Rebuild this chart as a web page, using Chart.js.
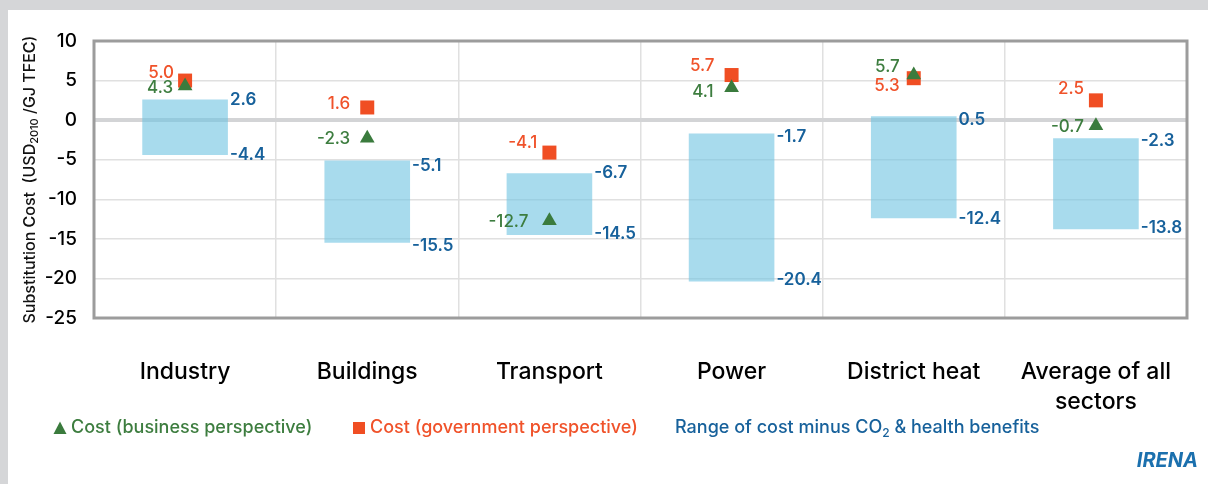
<!DOCTYPE html>
<html><head><meta charset="utf-8">
<script src="https://cdn.jsdelivr.net/npm/chart.js@4.4.0/dist/chart.umd.min.js"></script>
<style>html,body{margin:0;padding:0;background:#fff;overflow:hidden}canvas{display:block}</style>
</head><body><canvas id="c" width="1208" height="484"></canvas>
<script>
const categories = ['Industry', 'Buildings', 'Transport', 'Power', 'District heat', ['Average of all', 'sectors']];
const businessCost = [4.3, -2.3, -12.7, 4.1, 5.7, -0.7];
const governmentCost = [5.0, 1.6, -4.1, 5.7, 5.3, 2.5];
const rangeHigh = [2.6, -5.1, -6.7, -1.7, 0.5, -2.3];
const rangeLow = [-4.4, -15.5, -14.5, -20.4, -12.4, -13.8];
const yMin = -25, yMax = 10, yStep = 5;

// label nudges in pixels (style, not data)
const govLabelDx = [-11, -17, -12, -17, -14, -12];
const govLabelDy = [-8, -4, -10, -9, 8, -11];
const busLabelDx = [-12, -17, -21, -18, -14, -12];
const busLabelDy = [2, 1, 1.5, 4, -8, 1.5];
const highLabelDy = [0, 5, 0, 3, 4, 3];
const lowLabelDy = [0, 3, -1, -2, 1, -1];

const FONT = 'Inter, "Open Sans", sans-serif';
const ORANGE = '#f04e23', ORANGE_T = '#f0522a';
const GREEN = '#3a7b3d', GREEN_T = '#3d7d3f';
const BLUE_T = '#17619b';

function fmt(v) { return v.toFixed(1); }

function drawParts(ctx, parts, x, y, size, subSize, color, weight) {
  let cx = x;
  for (const p of parts) {
    const fs = p.sub ? subSize : size;
    ctx.font = (weight || 'normal') + ' ' + fs + 'px ' + FONT;
    ctx.fillStyle = color;
    ctx.fillText(p.t, cx, y + (p.sub ? size * 0.28 : 0));
    cx += ctx.measureText(p.t).width;
  }
  return cx;
}
function partsWidth(ctx, parts, size, subSize, weight) {
  let w = 0;
  for (const p of parts) {
    ctx.font = (weight || 'normal') + ' ' + (p.sub ? subSize : size) + 'px ' + FONT;
    w += ctx.measureText(p.t).width;
  }
  return w;
}

const customPlugin = {
  id: 'custom',
  beforeDraw(chart) {
    const ctx = chart.ctx;
    ctx.save();
    ctx.fillStyle = '#d5d6d8';
    ctx.fillRect(0, 0, chart.width, chart.height);
    ctx.fillStyle = '#ffffff';
    ctx.fillRect(8, 10, chart.width - 8, chart.height - 10);
    ctx.restore();
  },
  beforeDatasetsDraw(chart) {
    const { ctx, chartArea: a } = chart;
    ctx.save();
    ctx.strokeStyle = '#9c9c9c';
    ctx.lineWidth = 3;
    ctx.strokeRect(a.left, a.top, a.right - a.left, a.bottom - a.top);
    ctx.restore();
  },
  afterDatasetsDraw(chart) {
    const ctx = chart.ctx, xs = chart.scales.x, ys = chart.scales.y;
    const bars = chart.getDatasetMeta(0).data;
    ctx.save();
    ctx.textBaseline = 'middle';
    for (let i = 0; i < categories.length; i++) {
      const cx = xs.getPixelForValue(i);
      ctx.font = '500 17px ' + FONT;
      ctx.textAlign = 'right';
      ctx.fillStyle = ORANGE_T;
      ctx.fillText(fmt(governmentCost[i]), cx + govLabelDx[i], ys.getPixelForValue(governmentCost[i]) + govLabelDy[i]);
      ctx.fillStyle = GREEN_T;
      ctx.fillText(fmt(businessCost[i]), cx + busLabelDx[i], ys.getPixelForValue(businessCost[i]) + busLabelDy[i]);
      const b = bars[i];
      const rx = b.x + b.width / 2 + 2;
      ctx.font = '600 17px ' + FONT;
      ctx.textAlign = 'left';
      ctx.fillStyle = BLUE_T;
      ctx.fillText(fmt(rangeHigh[i]), rx, ys.getPixelForValue(rangeHigh[i]) + highLabelDy[i]);
      ctx.fillText(fmt(rangeLow[i]), rx, ys.getPixelForValue(rangeLow[i]) + lowLabelDy[i]);
    }
    ctx.restore();
  },
  afterDraw(chart) {
    const ctx = chart.ctx, a = chart.chartArea;
    ctx.save();
    // y axis title
    const tParts = [{ t: 'Substitution Cost  (USD' }, { t: '2010', sub: true }, { t: ' /GJ TFEC)' }];
    ctx.translate(30, (a.top + a.bottom) / 2);
    ctx.rotate(-Math.PI / 2);
    ctx.textAlign = 'left';
    ctx.textBaseline = 'middle';
    const tw = partsWidth(ctx, tParts, 16, 11, '500');
    drawParts(ctx, tParts, -tw / 2, 0, 16, 11, '#111', '500');
    ctx.restore();

    // legend
    ctx.save();
    ctx.textBaseline = 'middle';
    ctx.textAlign = 'left';
    const ly = 428;
    ctx.fillStyle = GREEN;
    ctx.beginPath();
    ctx.moveTo(60, ly - 6.5); ctx.lineTo(66.5, ly + 6); ctx.lineTo(53.5, ly + 6); ctx.closePath(); ctx.fill();
    ctx.font = '500 18px ' + FONT;
    ctx.fillStyle = GREEN_T;
    ctx.fillText('Cost (business perspective)', 71, ly);
    ctx.fillStyle = ORANGE;
    ctx.fillRect(353, ly - 6, 12, 12);
    ctx.fillStyle = ORANGE_T;
    ctx.fillText('Cost (government perspective)', 370, ly);
    drawParts(ctx, [{ t: 'Range of cost minus CO' }, { t: '2', sub: true }, { t: ' & health benefits' }], 675, ly, 18, 12, BLUE_T, '500');
    // source mark
    ctx.font = 'italic bold 20px ' + FONT;
    ctx.fillStyle = '#1b70ae';
    ctx.textAlign = 'right';
    ctx.textBaseline = 'alphabetic';
    ctx.fillText('IRENA', 1198, 467);
    ctx.restore();
  }
};

new Chart(document.getElementById('c'), {
  data: {
    labels: categories,
    datasets: [
      {
        type: 'bar',
        label: 'Range of cost minus CO2 & health benefits',
        data: rangeLow.map((lo, i) => [lo, rangeHigh[i]]),
        backgroundColor: 'rgba(110,195,225,0.6)',
        borderWidth: 0,
        barPercentage: 0.47,
        categoryPercentage: 1,
        order: 2
      },
      {
        type: 'line',
        label: 'Cost (government perspective)',
        data: governmentCost,
        showLine: false,
        pointStyle: 'rect',
        pointRadius: 9.9,
        pointHoverRadius: 9.9,
        pointBackgroundColor: ORANGE,
        pointBorderWidth: 0,
        order: 1
      },
      {
        type: 'line',
        label: 'Cost (business perspective)',
        data: businessCost,
        showLine: false,
        pointStyle: 'triangle',
        pointRadius: 8.5,
        pointHoverRadius: 8.5,
        pointBackgroundColor: GREEN,
        pointBorderWidth: 0,
        order: 0
      }
    ]
  },
  options: {
    responsive: false,
    animation: false,
    events: [],
    layout: { padding: { left: 0, top: 41, right: 21, bottom: 0 } },
    plugins: { legend: { display: false }, tooltip: { enabled: false } },
    scales: {
      x: {
        offset: true,
        grid: { offset: true, color: '#e0e0e0', lineWidth: 1.5, drawTicks: false },
        border: { display: false },
        ticks: { color: '#000', font: { family: FONT, size: 23, weight: '500', lineHeight: 1.3 }, padding: 39, maxRotation: 0, autoSkip: false },
        afterFit(s) { s.height = 166; s.paddingLeft = 0; s.paddingRight = 0; }
      },
      y: {
        min: yMin, max: yMax,
        grid: {
          color: (c) => c.tick && c.tick.value === 0 ? '#d3d4d6' : '#e0e0e0',
          lineWidth: (c) => c.tick && c.tick.value === 0 ? 4 : 1.5,
          drawTicks: false
        },
        border: { display: false },
        ticks: { stepSize: yStep, color: '#000', font: { family: FONT, size: 19, weight: '500' }, padding: 17 },
        afterFit(s) { s.width = 94; s.paddingTop = 0; s.paddingBottom = 0; }
      }
    }
  },
  plugins: [customPlugin]
});
</script>
</body></html>
